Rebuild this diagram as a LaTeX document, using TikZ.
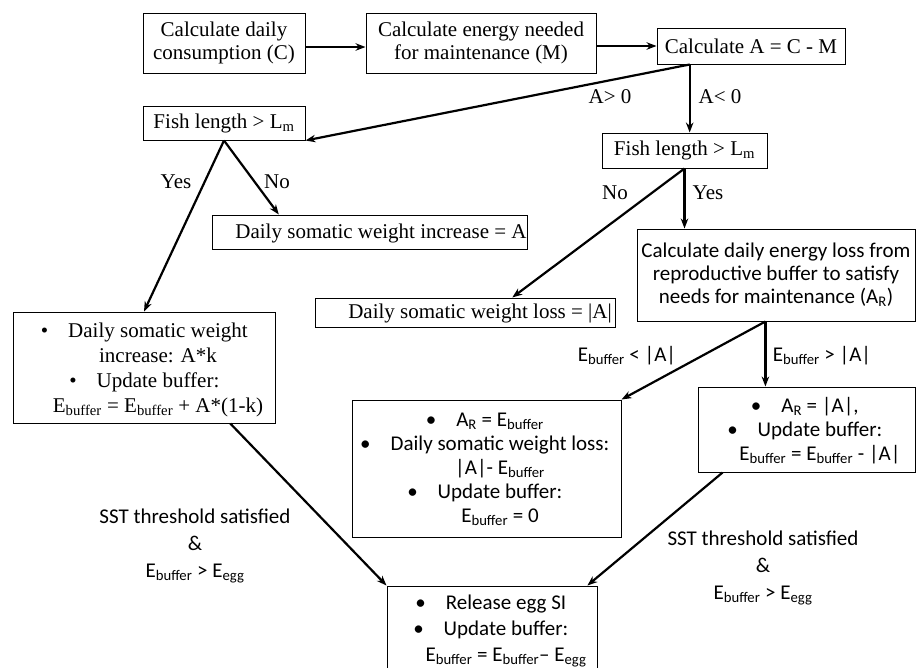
\documentclass[tikz,border=0pt]{standalone}
\usepackage{fontspec}
\setmainfont{Liberation Serif}
\newfontfamily\sansf{Carlito}
\usetikzlibrary{arrows.meta,calc}
\newcommand{\bul}{\llap{\textbullet\hspace{20pt}}}
\begin{document}
\begin{tikzpicture}[x=1pt,y=-1pt,
  box/.style={draw, line width=1pt, inner sep=0pt},
  ser/.style={font=\fontsize{21}{23}\selectfont, align=center},
  sns/.style={font=\sansf\fontsize{21}{24}\selectfont, align=center},
  txt/.style={inner sep=0pt},
  arr/.style={line width=2.2pt, -{Stealth[length=10pt,width=7.5pt]}},
  lab/.style={inner sep=0pt}]
\useasboundingbox (0,0) rectangle (917,667);

% boxes
\node[box,ser,minimum width=162pt,minimum height=60pt] (c1) at (224,43) {Calculate daily\\consumption (C)};
\node[box,ser,minimum width=230pt,minimum height=60pt] (c2) at (481,43) {Calculate energy needed\\for maintenance (M)};
\node[box,ser,minimum width=188pt,minimum height=36pt] (c3) at (751,46) {Calculate A = C - M};
\node[box,ser,minimum width=162pt,minimum height=34pt] (f1) at (224,123) {Fish length > L\textsubscript{m}};
\node[box,ser,minimum width=165pt,minimum height=35pt] (f2) at (684.5,150.5) {Fish length > L\textsubscript{m}};
\node[box,minimum width=315pt,minimum height=34pt] (inc) at (369.5,232) {};
\node[txt,ser] (inct) at (381,233) {Daily somatic weight increase = A};
\node[box,minimum width=300pt,minimum height=29pt] (loss) at (465,312.5) {};
\node[txt,ser] (losst) at (480,313) {Daily somatic weight loss = |A|};
\node[box,sns,font=\sansf\fontsize{21}{23}\selectfont,minimum width=278pt,minimum height=92pt] (calc) at (776,275) {Calculate daily energy loss from\\reproductive buffer to satisfy\\needs for maintenance (A\textsubscript{R})};
\node[box,minimum width=262pt,minimum height=111pt] (big) at (144,367.5) {};
\node[txt,ser,font=\fontsize{21}{25}\selectfont] (bigt) at (158,370) {\bul Daily somatic weight\\increase: A*k\\\bul Update buffer:\\E\textsubscript{buffer} = E\textsubscript{buffer} + A*(1-k)};
\node[box,minimum width=269pt,minimum height=137pt] (mid) at (486.5,468.5) {};
\node[txt,sns] (midt) at (500,469) {\bul A\textsubscript{R} = E\textsubscript{buffer}\\\bul Daily somatic weight loss:\\|A|- E\textsubscript{buffer}\\\bul Update buffer:\\E\textsubscript{buffer} = 0};
\node[box,minimum width=217pt,minimum height=85pt] (rb) at (806.5,429.5) {};
\node[txt,sns] (rbt) at (820,431) {\bul A\textsubscript{R} = |A|,\\\bul Update buffer:\\E\textsubscript{buffer} = E\textsubscript{buffer} - |A|};
\node[box,minimum width=210pt,minimum height=134pt] (rel) at (492,653) {};
\node[txt,sns,font=\sansf\fontsize{21}{26}\selectfont] (relt) at (506,631) {\bul Release egg SI\\\bul Update buffer:\\E\textsubscript{buffer} = E\textsubscript{buffer}– E\textsubscript{egg}};

% connector points
\coordinate (p3) at ($(c3.south west)!0.1755!(c3.south east)$);
\coordinate (pc) at ($(calc.south west)!0.462!(calc.south east)$);
\coordinate (pb) at ($(big.south west)!0.828!(big.south east)$);
\coordinate (pr) at ($(rb.south west)!0.115!(rb.south east)$);

% connectors
\draw[arr] ([yshift=-4pt]c1.east) -- ([yshift=-4pt]c1.east -| c2.west);
\draw[arr] ([yshift=-3pt]c2.east) -- ([yshift=-3pt]c2.east -| c3.west);
\draw[arr] (p3) -- (f1.south east);
\draw[arr] (p3) -- (p3 |- f2.north);
\draw[arr] (f1.south) -- (big.north);
\draw[arr] (f1.south) -- ($(inc.north west)!0.213!(inc.north east)$);
\draw[arr] (f2.south) -- (f2.south |- calc.north);
\draw[arr] (f2.south) -- ($(loss.north west)!0.657!(loss.north east)$);
\draw[arr] (pc) -- (pc |- rb.north);
\draw[arr] (pc) -- (mid.north east);
\draw[arr] (pb) -- (rel.north west);
\draw[arr] (pr) -- ($(rel.north west)!0.952!(rel.north east)$);

% labels
\node[lab,ser] (l1) at (610,97) {A> 0};
\node[lab,ser] (l2) at (720,97) {A< 0};
\node[lab,ser] (l3) at (176,182) {Yes};
\node[lab,ser] (l4) at (277,182) {No};
\node[lab,ser] (l5) at (615,193) {No};
\node[lab,ser] (l6) at (708,193) {Yes};
\node[lab,sns] (l7) at (627,356) {E\textsubscript{buffer} < |A|};
\node[lab,sns] (l8) at (822,356) {E\textsubscript{buffer} > |A|};
\node[lab,sns,font=\sansf\fontsize{21}{27}\selectfont] (l9) at (195,546) {SST threshold satisfied\\\&\\E\textsubscript{buffer} > E\textsubscript{egg}};
\node[lab,sns,font=\sansf\fontsize{21}{27}\selectfont] (l10) at (763,568) {SST threshold satisfied\\\&\\E\textsubscript{buffer} > E\textsubscript{egg}};
\end{tikzpicture}
\end{document}
